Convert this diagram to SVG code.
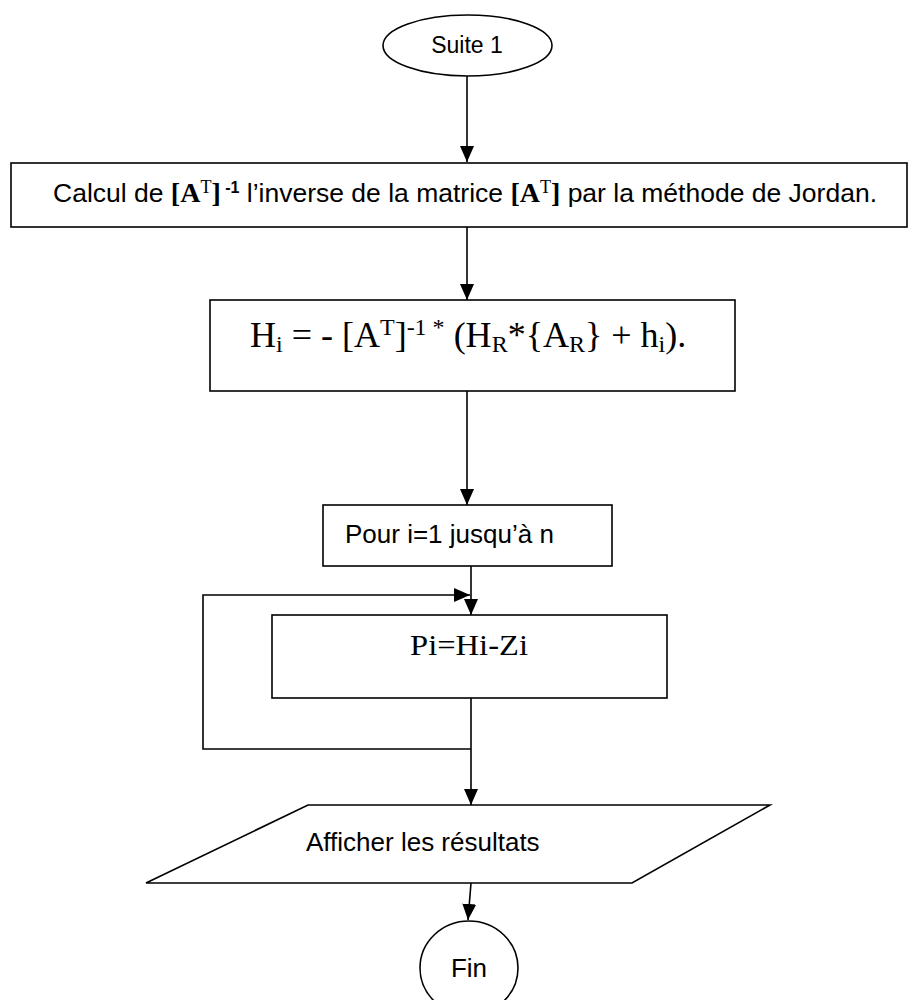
<svg xmlns="http://www.w3.org/2000/svg" width="910" height="1000" viewBox="0 0 910 1000">
  <style>
    .shape { fill: #ffffff; stroke: #000000; stroke-width: 1.6; }
    .edge { fill: none; stroke: #000000; stroke-width: 1.6; }
    .sans { font-family: "Liberation Sans", Arial, sans-serif; fill: #000000; }
    .serif { font-family: "Liberation Serif", "Times New Roman", serif; fill: #000000; }
  </style>
  <defs>
    <marker id="arrow" markerUnits="userSpaceOnUse" markerWidth="16" markerHeight="14" refX="16" refY="7" orient="auto">
      <path d="M0,0 L16,7 L0,14 Z" fill="#000000"/>
    </marker>
  </defs>

  <rect width="910" height="1000" fill="#ffffff"/>

  <!-- connectors -->
  <g id="connectors">
    <line class="edge" x1="467" y1="76" x2="467" y2="162" marker-end="url(#arrow)"/>
    <line class="edge" x1="467" y1="227" x2="467" y2="300" marker-end="url(#arrow)"/>
    <line class="edge" x1="467" y1="391" x2="467" y2="505" marker-end="url(#arrow)"/>
    <line class="edge" x1="471" y1="566" x2="471" y2="615" marker-end="url(#arrow)"/>
    <polyline class="edge" points="471,749 203,749 203,595 470,595" marker-end="url(#arrow)"/>
    <line class="edge" x1="471" y1="698" x2="471" y2="805" marker-end="url(#arrow)"/>
    <line class="edge" x1="471" y1="883" x2="468" y2="920" marker-end="url(#arrow)"/>
  </g>

  <!-- start terminal -->
  <g id="start">
    <ellipse class="shape" cx="467.5" cy="45.5" rx="84.5" ry="30.5"/>
    <text class="sans" x="467" y="53" font-size="23" text-anchor="middle">Suite 1</text>
  </g>

  <!-- inverse of the transposed matrix -->
  <g id="inverse">
    <rect class="shape" x="11" y="163" width="896" height="64"/>
    <text class="sans" x="53" y="202" font-size="26.5">Calcul de <tspan class="serif" font-size="28" font-weight="bold">[A</tspan><tspan class="serif" font-size="18" dy="-9">T</tspan><tspan class="serif" font-size="28" font-weight="bold" dy="9">]</tspan><tspan font-size="16" font-weight="bold" dy="-9"> -1</tspan><tspan dy="9"> l’inverse de la matrice </tspan><tspan class="serif" font-size="28" font-weight="bold">[A</tspan><tspan class="serif" font-size="18" dy="-9">T</tspan><tspan class="serif" font-size="28" font-weight="bold" dy="9">]</tspan> par la méthode de Jordan.</text>
  </g>

  <!-- head computation -->
  <g id="heads">
    <rect class="shape" x="210" y="300" width="525" height="91"/>
    <text class="serif" x="250" y="347" font-size="36">H<tspan font-size="24" dy="5">i</tspan><tspan dy="-5"> = - [A</tspan><tspan font-size="24" dy="-12">T</tspan><tspan dy="12">]</tspan><tspan font-size="24" dy="-12">-1 *</tspan><tspan dy="12"> (H</tspan><tspan font-size="24" dy="5">R</tspan><tspan dy="-5">*{A</tspan><tspan font-size="24" dy="5">R</tspan><tspan dy="-5">} + h</tspan><tspan font-size="24" dy="5">i</tspan><tspan dy="-5">).</tspan></text>
  </g>

  <!-- loop header -->
  <g id="loop">
    <rect class="shape" x="323" y="505" width="289" height="61"/>
    <text class="sans" x="345" y="543" font-size="26">Pour i=1 jusqu’à n</text>
  </g>

  <!-- pressure computation -->
  <g id="pressure">
    <rect class="shape" x="272" y="615" width="395" height="83"/>
    <text class="serif" x="410" y="655" font-size="29" textLength="118" lengthAdjust="spacingAndGlyphs">Pi=Hi-Zi</text>
  </g>

  <!-- output -->
  <g id="output">
    <polygon class="shape" points="308,805 770,805 632,883 146,883"/>
    <text class="sans" x="306" y="851" font-size="26">Afficher les résultats</text>
  </g>

  <!-- end terminal -->
  <g id="end">
    <ellipse class="shape" cx="469" cy="968" rx="49" ry="47"/>
    <text class="sans" x="469" y="977" font-size="26" text-anchor="middle">Fin</text>
  </g>
</svg>
